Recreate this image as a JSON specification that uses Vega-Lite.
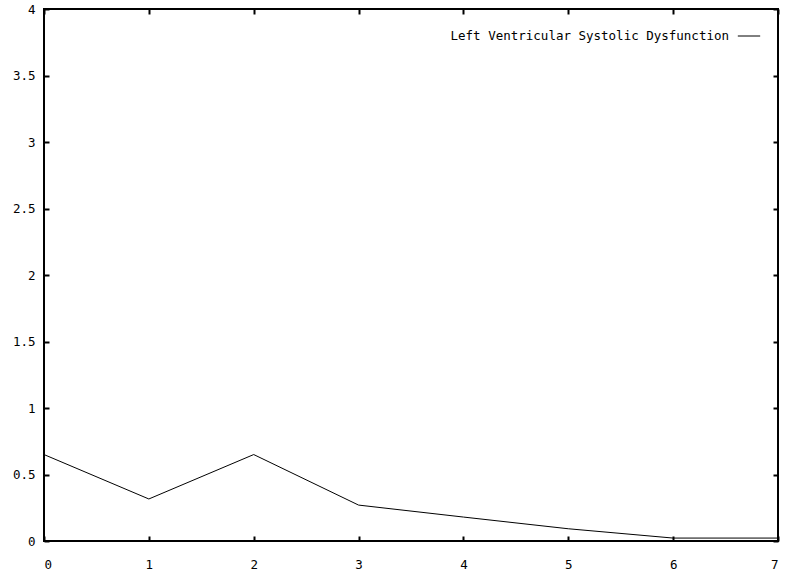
{
  "$schema": "https://vega.github.io/schema/vega-lite/v6.json",
  "width": 734,
  "height": 532,
  "autosize": {"type": "none"},
  "padding": {"left": 44, "top": 9, "right": 7, "bottom": 34},
  "background": "white",
  "config": {
    "view": {"stroke": "black", "strokeWidth": 2},
    "font": "DejaVu Sans Mono",
    "axis": {
      "grid": false,
      "domain": false,
      "tickColor": "black",
      "tickWidth": 2,
      "tickSize": -5,
      "labelFont": "DejaVu Sans Mono",
      "labelFontSize": 12.5,
      "labelColor": "black",
      "title": null
    }
  },
  "data": {
    "values": [
      {"x": 0, "y": 0.65, "series": "Left Ventricular Systolic Dysfunction"},
      {"x": 1, "y": 0.316, "series": "Left Ventricular Systolic Dysfunction"},
      {"x": 2, "y": 0.65, "series": "Left Ventricular Systolic Dysfunction"},
      {"x": 3, "y": 0.27, "series": "Left Ventricular Systolic Dysfunction"},
      {"x": 4, "y": 0.18, "series": "Left Ventricular Systolic Dysfunction"},
      {"x": 5, "y": 0.092, "series": "Left Ventricular Systolic Dysfunction"},
      {"x": 6, "y": 0.022, "series": "Left Ventricular Systolic Dysfunction"},
      {"x": 7, "y": 0.022, "series": "Left Ventricular Systolic Dysfunction"}
    ]
  },
  "layer": [
    {
      "mark": {"type": "line", "strokeWidth": 1, "clip": true},
      "encoding": {
        "x": {"field": "x", "type": "quantitative", "scale": {"domain": [0, 7], "nice": false, "zero": false},
              "axis": {"values": [0,1,2,3,4,5,6,7], "labelPadding": 22, "format": "d"}},
        "y": {"field": "y", "type": "quantitative", "scale": {"domain": [0, 4], "nice": false},
              "axis": {"values": [0,0.5,1,1.5,2,2.5,3,3.5,4], "labelPadding": 14, "format": "~g"}},
        "color": {"field": "series", "type": "nominal", "scale": {"range": ["black"]},
                  "legend": {"title": null, "orient": "top-right", "symbolType": "stroke", "symbolSize": 500, "symbolStrokeWidth": 1,
                             "symbolStrokeColor": "black", "symbolOpacity": 1, "labelLimit": 0,
                             "labelFont": "DejaVu Sans Mono", "labelFontSize": 12.5, "labelColor": "black",
                             "labelAlign": "right", "labelOffset": -32, "offset": 15, "padding": 0}}
      }
    },
    {
      "mark": {"type": "line", "strokeWidth": 1, "opacity": 0},
      "encoding": {
        "x": {"field": "x", "type": "quantitative", "axis": {"orient": "top", "values": [0,1,2,3,4,5,6,7], "labels": false}},
        "y": {"field": "y", "type": "quantitative", "axis": {"orient": "right", "values": [0,0.5,1,1.5,2,2.5,3,3.5,4], "labels": false}}
      }
    }
  ],
  "resolve": {"axis": {"x": "independent", "y": "independent"}}
}
